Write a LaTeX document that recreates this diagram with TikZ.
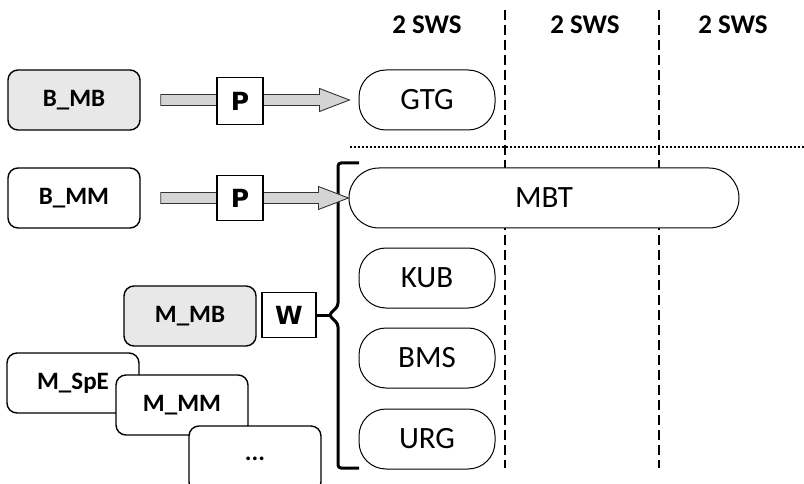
\documentclass[tikz,border=0pt]{standalone}
\usepackage{fontspec}
\setmainfont{Carlito}
\newfontfamily\heavyfont{DejaVu Sans}
\usetikzlibrary{calc}
\definecolor{boxgray}{RGB}{232,232,232}
\definecolor{arrowgray}{RGB}{212,212,212}

\begin{document}
\begin{tikzpicture}[x=1pt, y=-1pt,
    course/.style={draw, line width=1.4pt, rounded corners=10pt, minimum width=132pt, minimum height=60pt, font=\fontsize{25}{28}\selectfont\bfseries, fill=#1},
    course/.default=white,
    module/.style={draw, line width=1pt, rounded corners=27pt, minimum width=136pt, minimum height=60pt, font=\fontsize{31}{36}\selectfont, fill=white},
    tag/.style={draw, line width=1.2pt, fill=white, inner sep=0pt, font=\fontsize{25}{28}\heavyfont\bfseries},
    sws/.style={font=\fontsize{27}{30}\selectfont\bfseries},
    blockarrow/.style={fill=arrowgray, draw=black!80, line width=0.9pt},
    colsep/.style={line width=2pt, dash pattern=on 10pt off 5pt},
]
\useasboundingbox (0,0) rectangle (804,484);

% semester columns
\node[sws] (h1) at (427,25) {2 SWS};
\node[sws] (h2) at (585,25) {2 SWS};
\node[sws] (h3) at (733,25) {2 SWS};
\foreach \x [count=\i] in {505,659} {
  \coordinate (top\i) at (\x,10);
  \coordinate (bot\i) at (\x,468);
  \draw[colsep] (top\i) -- (bot\i);
}
\coordinate (sepl) at (350,147);
\coordinate (sepr) at (804,147);
\draw[line width=2pt, dash pattern=on 2pt off 2pt] (sepl) -- (sepr);

% bracket
\coordinate (bracetip) at (329,315);
\draw[line width=3pt, rounded corners=3pt] (359,163) -- (338,163) -- (338,306) -- (bracetip) -- (338,324) -- (338,468) -- (359,468);

% courses
\node[course=boxgray] (bmb) at (74,100) {B\_MB};
\node[course] (bmm) at (74,198) {B\_MM};
\node[course=boxgray] (mmb) at (190,316) {M\_MB};
\node[course] (mspe) at (73,383) {M\_SpE};
\node[course] (mmm) at (182,405) {M\_MM};
\node[course, minimum height=66pt] (more) at (255,459) {...};

% modules
\node[module] (gtg) at (427,100) {GTG};
\node[module, minimum width=390pt, rounded corners=30pt] (mbt) at (544,198) {MBT};
\node[module] (kub) at (427,278) {KUB};
\node[module] (bms) at (427,358) {BMS};
\node[module] (urg) at (427,439) {URG};

% block arrows
\coordinate (s1) at ($(bmb.east)+(20,0)$);
\coordinate (t1) at ($(gtg.west)+(-9,0)$);
\coordinate (s2) at ($(bmm.east)+(20,0)$);
\coordinate (t2) at (mbt.west);
\foreach \s/\t in {s1/t1, s2/t2}
  \draw[blockarrow] ($(\s)+(0,-5.5)$) -- ($(\t)+(-30,-5.5)$) -- ($(\t)+(-30,-11.5)$) -- (\t)
    -- ($(\t)+(-30,11.5)$) -- ($(\t)+(-30,5.5)$) -- ($(\s)+(0,5.5)$) -- cycle;

\node[tag, minimum width=46pt, minimum height=47pt] (p1) at (240,101) {P};
\node[tag, minimum width=46pt, minimum height=45pt] (p2) at (240,198) {P};
\node[tag, minimum width=54pt, minimum height=45pt] (w) at (289,315) {W};
\draw[line width=3pt] (w.east) -- (bracetip);
\end{tikzpicture}
\end{document}
